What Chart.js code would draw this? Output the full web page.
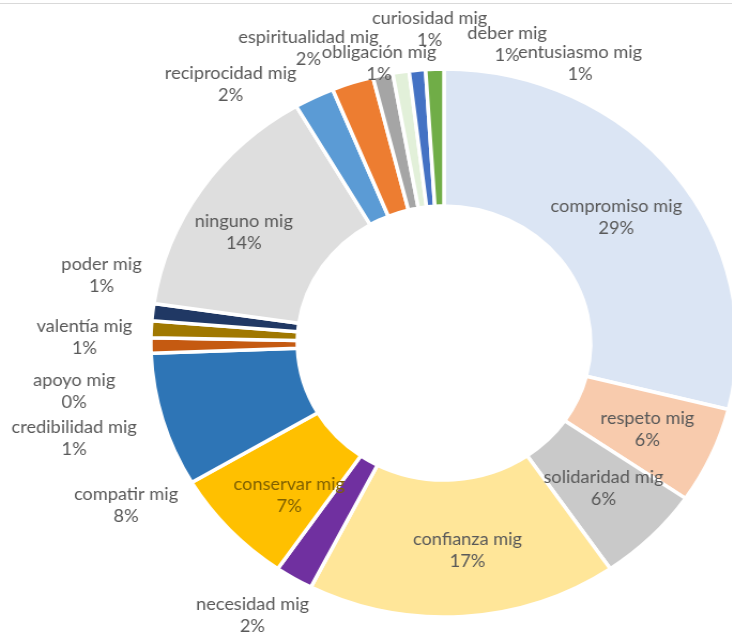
<!DOCTYPE html>
<html>
<head>
<meta charset="utf-8">
<script src="https://cdn.jsdelivr.net/npm/chart.js@4.4.0/dist/chart.umd.min.js"></script>
<style>
    html, body { margin: 0; padding: 0; background: #fff; overflow: hidden; width: 732px; height: 635px; }
    #topline { position: absolute; left: 0; top: 3px; width: 732px; height: 1px; background: #d9d9d9; z-index: 2; }
    #wrap { position: absolute; left: 0; top: 0; width: 888px; height: 686px; transform-origin: 444px 343px; transform: scaleX(1.07); }
</style>
</head>
<body>
<div id="topline"></div>
<div id="wrap"><canvas id="donut-chart"></canvas></div>
<script>
const categories = [
    'compromiso mig', 'respeto mig', 'solidaridad mig', 'confianza mig', 'necesidad mig',
    'conservar mig', 'compatir mig', 'credibilidad mig', 'apoyo mig', 'valentía mig',
    'poder mig', 'ninguno mig', 'reciprocidad mig', 'espiritualidad mig', 'obligación mig',
    'curiosidad mig', 'deber mig', 'entusiasmo mig'
];
const shares = [28.9, 5.7, 5.8, 17.1, 2.1, 6.9, 7.9, 0.9, 0, 1.0, 1.0, 14.3, 2.2, 2.3, 1.1, 0.9, 0.9, 1.0];
const sliceColors = [
    '#dbe5f4', '#f8cbad', '#c9c9c9', '#ffe699', '#7030a0',
    '#ffc000', '#2e75b6', '#c55a11', '#7f6000', '#a07800',
    '#203864', '#dedede', '#5b9bd5', '#ed7d31', '#a5a5a5',
    '#e2f0d9', '#4472c4', '#70ad47'
];
const labelColors = categories.map(name => (name === 'conservar mig' ? '#7f6000' : '#595959'));
// label nudge from the middle of each ring segment, in page pixels
const labelNudge = [
    [-1, 1], [3, 2], [4, 0], [9, 2], [-79, 96],
    [6, 12], [-107, 105], [-150, 94], [-150, 52], [-140, 5],
    [-124, -44], [-18, 4], [-116, -74], [-67, -99], [-19, -79],
    [18, -110], [83, -94], [143, -74]
];
const SX = 1.07;

const sliceLabels = {
    id: 'sliceLabels',
    afterDatasetsDraw(chart) {
        const ctx = chart.ctx;
        const meta = chart.getDatasetMeta(0);
        const total = shares.reduce((a, b) => a + b, 0);
        ctx.save();
        ctx.font = '17px Lato';
        ctx.textAlign = 'center';
        ctx.textBaseline = 'middle';
        meta.data.forEach((arc, i) => {
            const { x, y, startAngle, endAngle, innerRadius, outerRadius } =
                arc.getProps(['x', 'y', 'startAngle', 'endAngle', 'innerRadius', 'outerRadius'], true);
            const mid = (startAngle + endAngle) / 2;
            const r = (innerRadius + outerRadius) / 2;
            const px = x + Math.cos(mid) * r + labelNudge[i][0] / SX;
            const py = y + Math.sin(mid) * r + labelNudge[i][1];
            ctx.fillStyle = labelColors[i];
            ctx.fillText(categories[i], px, py - 11);
            ctx.fillText(Math.round(shares[i] / total * 100) + '%', px, py + 11);
        });
        ctx.restore();
    }
};

const donutChart = new Chart(document.getElementById('donut-chart'), { // eslint-disable-line
    type: 'doughnut',
    data: {
        labels: categories,
        datasets: [{
            data: shares,
            backgroundColor: sliceColors,
            borderColor: '#ffffff',
            borderWidth: 3.5
        }]
    },
    options: {
        responsive: true,
        maintainAspectRatio: false,
        animation: false,
        radius: 274,
        cutout: '50%',
        layout: { padding: 0 },
        plugins: {
            legend: { display: false },
            tooltip: { enabled: false },
            title: { display: false }
        }
    },
    plugins: [sliceLabels]
});
</script>
</body>
</html>
